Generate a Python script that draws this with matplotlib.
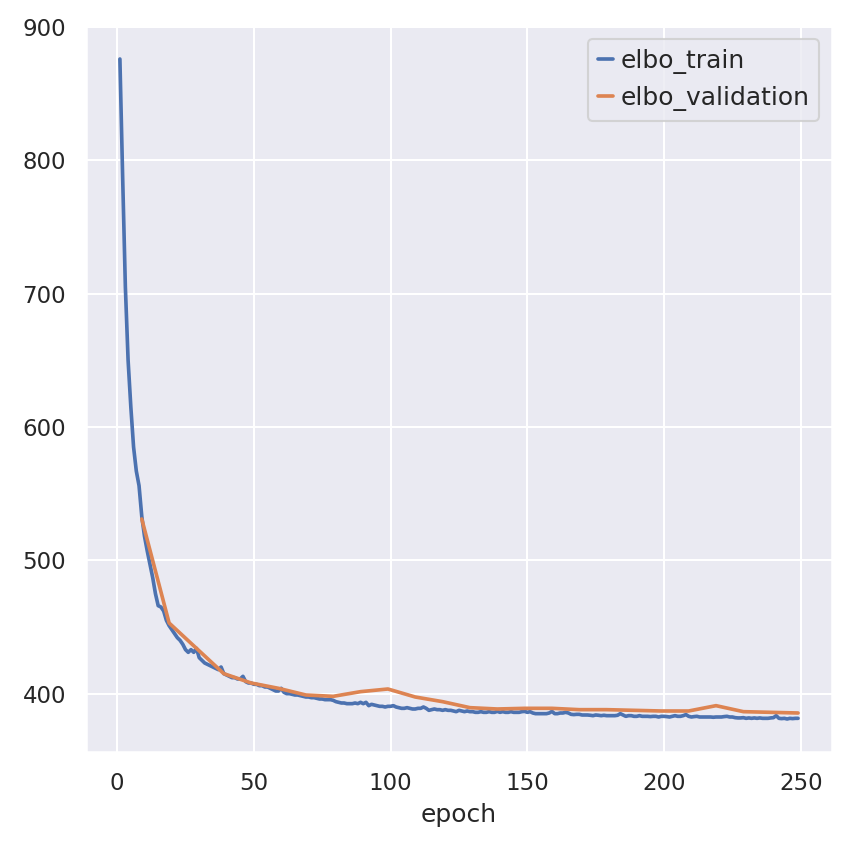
# -*- coding: utf-8 -*-
"""ELBO curves: train vs validation over epochs"""
import pandas as pd
import seaborn as sns
import matplotlib
matplotlib.use("Agg")
import matplotlib.pyplot as plt

# ---- data ----
train_epochs = list(range(1, 250))
elbo_train = [
    876, 788, 705, 650, 615, 585, 567, 556, 533, 518,
    507, 497, 487, 475, 466, 465, 462, 455, 451, 448,
    445, 442, 440, 437, 433, 431, 433, 431, 434, 427,
    425, 423, 422, 421, 420, 419, 418, 420, 415, 414,
    413, 412, 412, 411, 411, 413, 409, 408, 408, 407,
    407, 406, 406, 405, 405, 404, 403, 402, 402, 404,
    401, 400, 400, 399.5, 399, 399, 398.5, 398, 397.5, 397.5,
    397, 397, 396.5, 396, 396, 395.5, 395.5, 395.5, 395, 394,
    393.5, 393, 393, 392.5, 392.5, 392.5, 393, 392.5, 393.5, 392.5,
    393.5, 391, 392, 391.5, 391, 390.5, 390.5, 390, 390.5, 390.5,
    391, 390, 389.5, 389, 389, 389.5, 389, 388.5, 388.5, 389,
    389, 390, 389, 387.5, 388, 388.5, 388, 388, 387.5, 388,
    387.5, 387.5, 387, 386.5, 387.5, 387, 386.5, 387, 386.5, 386.5,
    386, 386, 386.5, 386, 386, 386.5, 386, 386, 386.7, 386,
    386.5, 386, 386, 386.5, 386, 386, 386, 386.5, 386.7, 386,
    386.5, 385.5, 385, 385, 385, 385, 385, 385.5, 386.7, 385,
    385, 385.5, 385.5, 386, 385.5, 384.5, 384.3, 384.5, 384.5, 384,
    384, 384, 383.8, 383.5, 384, 383.8, 383.5, 383.8, 383.5, 383.5,
    383.5, 383.5, 383.8, 385, 384, 383, 383.5, 383.5, 383, 383,
    383.5, 383, 383, 383, 382.8, 383, 383, 382.5, 383, 383,
    382.8, 382.5, 383, 383.5, 383, 383, 383.5, 384.3, 383, 382.5,
    382.8, 383, 382.5, 382.5, 382.5, 382.5, 382.5, 382.3, 382.5, 382.5,
    382.5, 382.8, 383, 382.5, 382.5, 382, 381.8, 381.8, 382, 381.5,
    381.8, 381.5, 381.8, 381.5, 381.8, 381.5, 381.5, 381.5, 381.8, 382,
    383.5, 381.5, 381.3, 381.5, 381, 381.5, 381.3, 381.5, 381.5,
]
val_epochs = list(range(9, 250, 10))
elbo_validation = [
    531, 453, 434, 415, 408, 404, 399, 398, 401.5, 403.5,
    397.5, 394, 389.5, 388.5, 389, 389, 388, 388, 387.5, 387,
    387, 391, 386.5, 386, 385.5,
]

# ---- plot ----
if __name__ == '__main__':
    sns.set_theme()
    plt.rcParams['lines.linewidth'] = 1.75
    train = pd.DataFrame({'elbo_train': elbo_train}, index=pd.Index(train_epochs, name='epoch'))
    val = pd.DataFrame({'elbo_validation': elbo_validation}, index=pd.Index(val_epochs, name='epoch'))

    fig = plt.figure(figsize=(848 / 150, 850 / 150), dpi=150)
    ax = fig.add_axes([0.1014, 0.1153, 0.8797, 0.8541])
    train.plot(ax=ax)
    val.plot(ax=ax)
    ax.legend(loc='upper right', fontsize=12, handlelength=0.6,
              handletextpad=0.3, borderpad=0.4, labelspacing=0.5)
    plt.savefig('out.png', dpi=150)
